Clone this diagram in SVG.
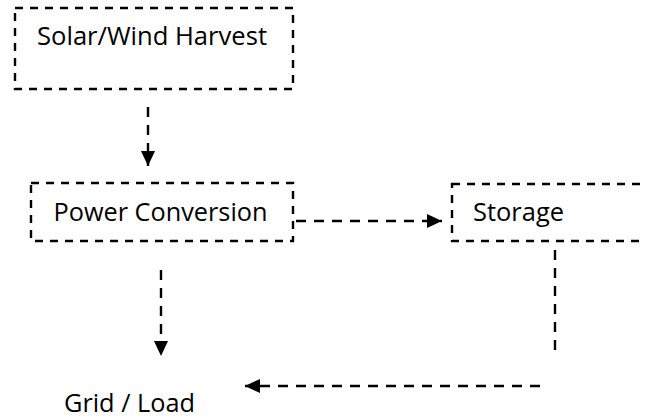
<svg xmlns="http://www.w3.org/2000/svg" width="645" height="419" viewBox="0 0 645 419">
<style>
.box{fill:none;stroke:#000;stroke-width:2.4;stroke-dasharray:8 7}
.lbl{font-family:"Open Sans","Noto Sans","Liberation Sans",sans-serif;font-size:26px;fill:#000}
.con{fill:none;stroke:#000;stroke-width:2.4;stroke-dasharray:10 8}
</style>
<defs>
<marker id="arr" markerUnits="userSpaceOnUse" viewBox="0 0 15 14" refX="15" refY="7" markerWidth="15" markerHeight="14" orient="auto">
<path d="M0,0 L15,7 L0,14 z" fill="#000"/>
</marker>
</defs>
<rect width="645" height="419" fill="#fff"/>
<g id="solar">
<rect class="box" x="15" y="8" width="278" height="81"/>
<text class="lbl" x="37" y="45" textLength="230" lengthAdjust="spacingAndGlyphs">Solar/Wind Harvest</text>
</g>
<g id="power">
<rect class="box" x="31" y="183" width="262" height="58"/>
<text class="lbl" x="53.5" y="221" textLength="214" lengthAdjust="spacingAndGlyphs">Power Conversion</text>
</g>
<g id="storage">
<rect class="box" x="452" y="184" width="215" height="57"/>
<text class="lbl" x="473" y="221" textLength="91" lengthAdjust="spacingAndGlyphs">Storage</text>
</g>
<g id="grid">
<text class="lbl" x="64" y="412" textLength="131" lengthAdjust="spacingAndGlyphs">Grid / Load</text>
</g>
<g id="connectors">
<line class="con" x1="148" y1="107" x2="148" y2="166" marker-end="url(#arr)"/>
<line class="con" x1="296" y1="221" x2="442" y2="221" marker-end="url(#arr)"/>
<line class="con" x1="161" y1="270" x2="161" y2="356" marker-end="url(#arr)"/>
<line class="con" x1="555" y1="250" x2="555" y2="353"/>
<line class="con" x1="540" y1="386" x2="245" y2="386" marker-end="url(#arr)"/>
</g>
</svg>
